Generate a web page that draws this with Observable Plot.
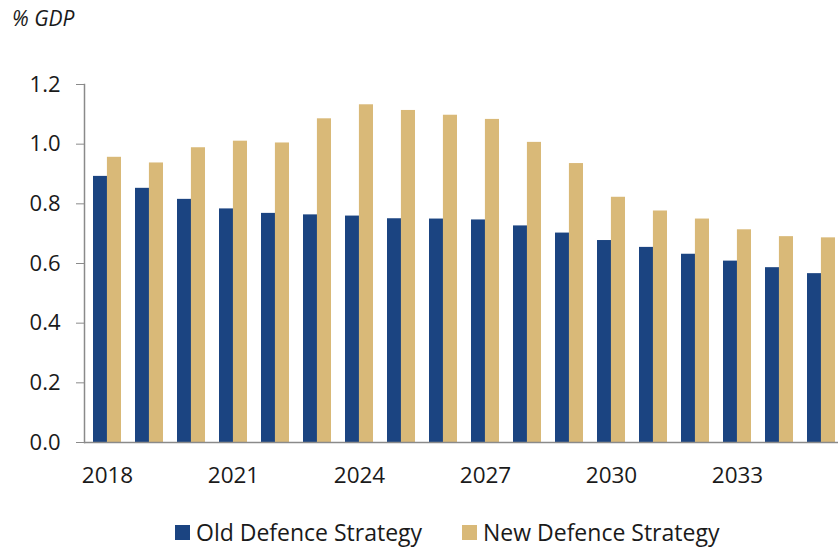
<!DOCTYPE html>
<html>
<head>
<meta charset="utf-8">
<script src="https://cdn.jsdelivr.net/npm/d3@7"></script>
<script src="https://cdn.jsdelivr.net/npm/@observablehq/plot@0.6"></script>
<style>
  html, body { margin: 0; padding: 0; background: #fff; overflow: hidden; }
  body { width: 838px; height: 548px; font-family: "Open Sans", sans-serif; color: #1a1a1a; }
  #title { height: 36px; line-height: 36px; padding-left: 12px; font-size: 21px; font-style: italic; }
  #legend { height: 32px; padding-top: 12px; display: flex; align-items: center; font-size: 23px; }
  .item { display: flex; align-items: center; }
  .sw { width: 15px; height: 15px; margin-right: 6px; }
</style>
</head>
<body>
<div id="title">% GDP</div>
<div id="chart"></div>
<div id="legend"></div>
<script>
const years = [2018,2019,2020,2021,2022,2023,2024,2025,2026,2027,2028,2029,2030,2031,2032,2033,2034,2035];
const oldStrategy = [0.892,0.852,0.815,0.783,0.768,0.763,0.759,0.750,0.749,0.746,0.726,0.702,0.677,0.654,0.631,0.608,0.586,0.566];
const newStrategy = [0.956,0.937,0.988,1.010,1.004,1.085,1.132,1.113,1.097,1.083,1.006,0.935,0.822,0.776,0.749,0.713,0.690,0.686];
const seriesNames = ["Old Defence Strategy", "New Defence Strategy"];
const colors = ["#1B4481", "#D9B978"];
const xTicks = [2018,2021,2024,2027,2030,2033];
const yTicks = [0,0.2,0.4,0.6,0.8,1.0,1.2];

const W = 838, ML = 84, MR = -5, PAD = 0.34;
const step = (W - ML - MR) / years.length;
const bw = step * (1 - PAD);

const oldData = years.map((y, i) => ({year: y, value: oldStrategy[i]}));
const newData = years.map((y, i) => ({year: y, value: newStrategy[i]}));

const chart = Plot.plot({
  width: W,
  height: 468,
  marginLeft: ML,
  marginRight: MR,
  marginTop: 48,
  marginBottom: 62,
  style: {fontFamily: "Open Sans, sans-serif", fontSize: "22px", color: "#1a1a1a", background: "#fff"},
  x: {domain: years, paddingInner: PAD, paddingOuter: PAD / 2, axis: null},
  y: {domain: [0, 1.2], axis: null},
  marks: [
    Plot.barY(oldData, {x: "year", y: "value", fill: colors[0], insetRight: bw / 2}),
    Plot.barY(newData, {x: "year", y: "value", fill: colors[1], insetLeft: bw / 2}),
    Plot.ruleY([0], {stroke: "#8a8a8a", strokeWidth: 1.5}),
    Plot.frame({anchor: "left", stroke: "#8a8a8a", strokeWidth: 1.5}),
    Plot.axisY({ticks: yTicks, tickSize: 8, tickPadding: 16, tickFormat: d3.format(".1f"), stroke: "#8a8a8a", label: null, fontSize: 22}),
    Plot.axisX({ticks: xTicks, tickSize: 0, tickPadding: 25, tickFormat: d => `${d}`, label: null, fontSize: 22.5})
  ]
});
document.getElementById("chart").appendChild(chart);

const legend = document.getElementById("legend");
const starts = [175, 462];
seriesNames.forEach((name, i) => {
  const item = document.createElement("div");
  item.className = "item";
  item.style.position = "absolute";
  item.style.left = starts[i] + "px";
  const sw = document.createElement("div");
  sw.className = "sw";
  sw.style.background = colors[i];
  const t = document.createElement("span");
  t.textContent = name;
  item.appendChild(sw);
  item.appendChild(t);
  legend.appendChild(item);
});
</script>
</body>
</html>
